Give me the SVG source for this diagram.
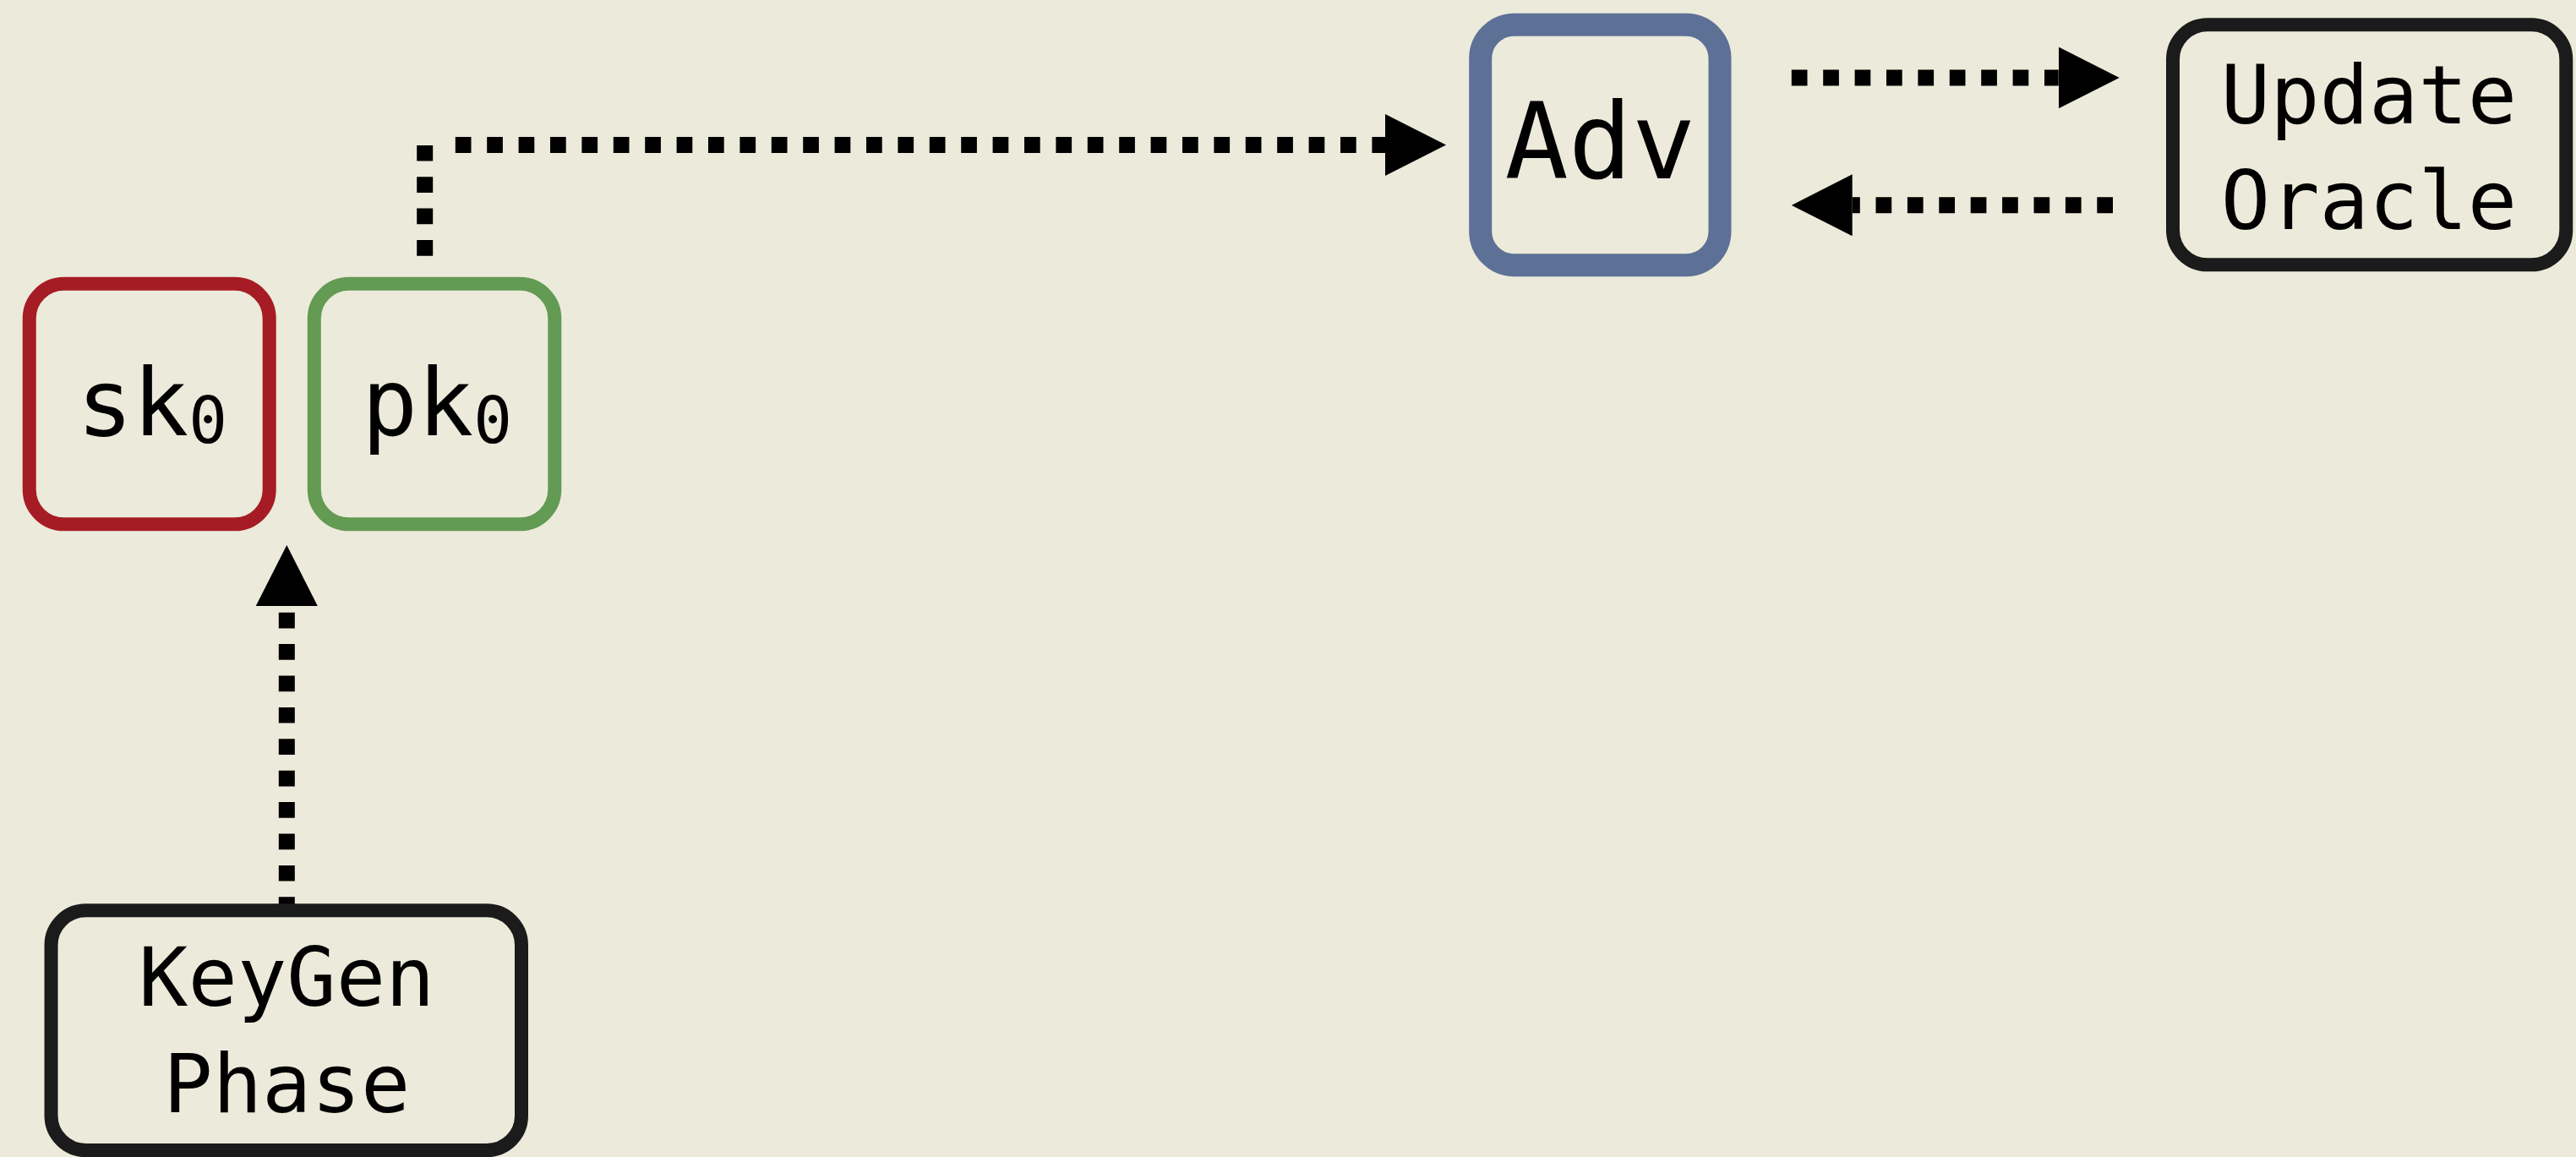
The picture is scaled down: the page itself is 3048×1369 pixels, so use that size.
<svg xmlns="http://www.w3.org/2000/svg" width="3048" height="1369" viewBox="0 0 3048 1369">
  <defs>
    <style>
      .box { fill: none; }
      .red { stroke: #a61c25; stroke-width: 16; }
      .green { stroke: #639a54; stroke-width: 16; }
      .blue { stroke: #5d7197; stroke-width: 27; }
      .dark { stroke: #1b1b1b; stroke-width: 16; }
      .label { font-family: "DejaVu Sans Mono", "Liberation Mono", monospace; fill: #000; text-anchor: middle; }
      .flow { fill: none; stroke: #000; stroke-width: 19; stroke-dasharray: 18.7 18.7; stroke-linecap: butt; }
    </style>
    <marker id="head" viewBox="0 0 72 73" refX="0" refY="36.5" markerWidth="72" markerHeight="73" markerUnits="userSpaceOnUse" orient="auto">
      <path d="M0,0 L72,36.5 L0,73 Z" fill="#000"/>
    </marker>
  </defs>

  <rect width="3048" height="1369" fill="#eceada"/>

  <!-- connectors -->
  <g id="connectors">
    <path class="flow" d="M339.3,1080 V717" marker-end="url(#head)"/>
    <path class="flow" d="M502.7,302.7 V172"/>
    <path class="flow" d="M538.8,171.5 H1639" marker-end="url(#head)"/>
    <path class="flow" d="M2119.8,92 H2435.7" marker-end="url(#head)"/>
    <path class="flow" d="M2500,242.8 H2191.7" marker-end="url(#head)"/>
  </g>

  <!-- secret key -->
  <g id="sk0">
    <rect class="box red" x="34.7" y="335.8" width="284" height="284.5" rx="41"/>
    <text class="label" x="180" y="515" font-size="110">sk<tspan font-size="76" dy="9">0</tspan></text>
  </g>

  <!-- public key -->
  <g id="pk0">
    <rect class="box green" x="371.8" y="335.8" width="284.5" height="284.5" rx="41"/>
    <text class="label" x="517" y="515" font-size="110">pk<tspan font-size="76" dy="9">0</tspan></text>
  </g>

  <!-- adversary -->
  <g id="adv">
    <rect class="box blue" x="1751.7" y="29.3" width="283.3" height="284.4" rx="40"/>
    <text class="label" x="1893.5" y="210.7" font-size="125">Adv</text>
  </g>

  <!-- update oracle -->
  <g id="update-oracle">
    <rect class="box dark" x="2571" y="29.3" width="465.3" height="284" rx="41"/>
    <text class="label" x="2803" y="145.7" font-size="97">Update</text>
    <text class="label" x="2803" y="270.7" font-size="97">Oracle</text>
  </g>

  <!-- key generation -->
  <g id="keygen">
    <rect class="box dark" x="60.5" y="1077.3" width="556.5" height="283.7" rx="41"/>
    <text class="label" x="339.3" y="1190" font-size="97">KeyGen</text>
    <text class="label" x="339.3" y="1316" font-size="97">Phase</text>
  </g>
</svg>
